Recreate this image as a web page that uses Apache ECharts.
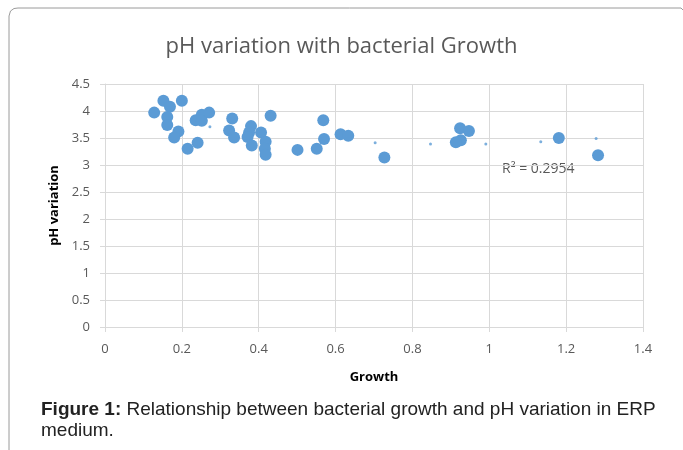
<!DOCTYPE html>
<html><head><meta charset="utf-8">
<script src="https://cdn.jsdelivr.net/npm/echarts@6/dist/echarts.min.js"></script>
<style>html,body{margin:0;padding:0;background:#fff;}#c{width:683px;height:450px;}</style>
</head><body><div id="c"></div>
<script>
var growth = [0.152,0.169,0.200,0.128,0.162,0.162,0.191,0.180,0.215,0.241,0.236,0.252,0.252,0.271,0.331,0.323,0.336,0.380,0.375,0.371,0.382,0.406,0.418,0.416,0.418,0.431,0.501,0.551,0.568,0.570,0.613,0.633,0.727,0.924,0.947,0.926,0.913,1.181,1.283];
var ph = [4.19,4.08,4.19,3.97,3.89,3.74,3.62,3.51,3.30,3.41,3.83,3.93,3.82,3.97,3.86,3.64,3.51,3.72,3.60,3.52,3.36,3.60,3.43,3.30,3.19,3.91,3.28,3.30,3.83,3.48,3.57,3.54,3.14,3.68,3.63,3.46,3.42,3.50,3.18];
var trendX = [0.273,0.703,0.847,0.991,1.134,1.278];
var trendY = [3.71,3.41,3.39,3.39,3.43,3.49];
var xTicks = [0,0.2,0.4,0.6,0.8,1,1.2,1.4];
var yTicks = [0,0.5,1,1.5,2,2.5,3,3.5,4,4.5];
var r2Label = 'R² = 0.2954';

var chart = echarts.init(document.getElementById('c'));
var pts = growth.map(function(g,i){return [g, ph[i]];});
var tpts = trendX.map(function(g,i){return [g, trendY[i]];});
chart.setOption({
  animation:false,
  title:{text:'pH variation with bacterial Growth', left:'center', top:31,
    textStyle:{fontFamily:'Open Sans', fontWeight:'normal', fontSize:22, color:'#595959'}},
  grid:{left:105, right:40, top:84, bottom:123},
  xAxis:{type:'value', min:0, max:1.4, interval:0.2,
    name:'Growth', nameLocation:'middle', nameGap:44,
    nameTextStyle:{fontFamily:'Open Sans', fontWeight:'bold', fontSize:13, color:'#000'},
    axisLine:{show:true, lineStyle:{color:'#d9d9d9'}},
    axisTick:{show:true, length:5, lineStyle:{color:'#d9d9d9'}},
    axisLabel:{fontFamily:'Open Sans', fontSize:13, color:'#595959', margin:16,
      formatter:function(v){return String(Math.round(v*10)/10);}},
    splitLine:{show:true, lineStyle:{color:'#d9d9d9'}}},
  yAxis:{type:'value', min:0, max:4.5, interval:0.5,
    name:'pH variation', nameLocation:'middle', nameGap:40,
    nameTextStyle:{fontFamily:'Open Sans', fontWeight:'bold', fontSize:13, color:'#000'},
    axisLine:{show:true, lineStyle:{color:'#d9d9d9'}},
    axisTick:{show:true, length:5, lineStyle:{color:'#d9d9d9'}},
    axisLabel:{fontFamily:'Open Sans', fontSize:13, color:'#595959', margin:15},
    splitLine:{show:true, lineStyle:{color:'#d9d9d9'}}},
  series:[
    {type:'scatter', data:pts, symbolSize:12, itemStyle:{color:'#5b9bd5', opacity:1}},
    {type:'scatter', data:tpts, symbolSize:3, itemStyle:{color:'#5b9bd5'}}
  ],
  graphic:[
    {type:'polyline', shape:{points:[[9,450],[9,16],[10.5,11],[14,8.5],[18,8],[681,8],[683,10]]},
      style:{stroke:'#9a9a9a', lineWidth:1, fill:null}},
    {type:'text', left:502, top:162, style:{text:r2Label, fontFamily:'Open Sans', fontSize:14, fill:'#595959'}},
    {type:'text', left:41, top:399, style:{
      text:'{b|Figure 1:} Relationship between bacterial growth and pH variation in ERP\nmedium.',
      fontFamily:'Liberation Sans', fontSize:19, fill:'#222', lineHeight:21,
      rich:{b:{fontFamily:'Liberation Sans', fontWeight:'bold', fontSize:19, fill:'#222', lineHeight:21}}}}
  ]
});
</script></body></html>
